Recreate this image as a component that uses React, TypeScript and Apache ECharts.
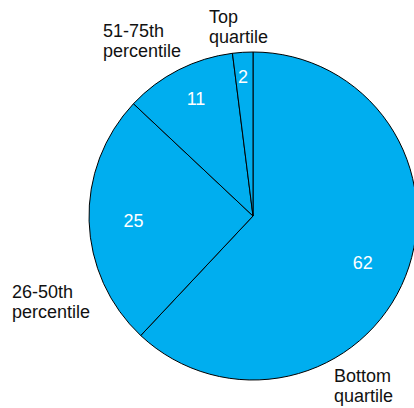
import React, { useEffect, useRef } from "react";
import * as echarts from "echarts";

const categories = ["Bottom quartile", "26-50th percentile", "51-75th percentile", "Top quartile"];
const values = [62, 25, 11, 2];
const outerLabels = ["Bottom\nquartile", "26-50th\npercentile", "51-75th\npercentile", "Top\nquartile"];

const FONT = "'Liberation Sans', Arial, Helvetica, sans-serif";
const FILL = "#00AEEF";

export default function App() {
  const ref = useRef<HTMLDivElement>(null);
  useEffect(() => {
    if (!ref.current) return;
    const chart = echarts.init(ref.current, null, { renderer: "svg" });
    const center = [253, 216];
    const labelPos: Record<string, [number, number]> = {
      "Bottom quartile": [334, 366],
      "26-50th percentile": [12, 282],
      "51-75th percentile": [103, 21],
      "Top quartile": [209, 7],
    };
    const valueOffsets: [number, number][] = [[-7, 1], [6, 1], [0, -5], [-2, -14]];
    chart.setOption({
      animation: false,
      series: [
        {
          type: "pie",
          center,
          radius: 164,
          startAngle: 90,
          clockwise: true,
          silent: true,
          label: { show: false },
          labelLine: { show: false },
          itemStyle: { color: FILL, borderColor: "#000", borderWidth: 1 },
          data: categories.map((c, i) => ({ name: c, value: values[i] })),
        },
        {
          type: "pie",
          center,
          radius: 245,
          startAngle: 90,
          clockwise: true,
          silent: true,
          z: 5,
          itemStyle: { color: "rgba(0,0,0,0)", borderWidth: 0 },
          labelLine: { show: false },
          data: categories.map((c, i) => ({
            name: c,
            value: values[i],
            label: { offset: valueOffsets[i] },
          })),
          label: {
            show: true,
            position: "inside",
            formatter: "{c}",
            color: "#fff",
            fontSize: 18,
            fontFamily: FONT,
          },
        },
      ],
      graphic: categories.map((c, i) => ({
        type: "text",
        left: labelPos[c][0],
        top: labelPos[c][1],
        z: 10,
        style: {
          text: outerLabels[i],
          fill: "#111",
          font: `18px ${FONT}`,
          lineHeight: 20,
        },
      })),
    });
    return () => chart.dispose();
  }, []);
  return (
    <div
      ref={ref}
      style={{ position: "fixed", left: 0, top: 0, width: 414, height: 408, background: "#fff" }}
    />
  );
}
